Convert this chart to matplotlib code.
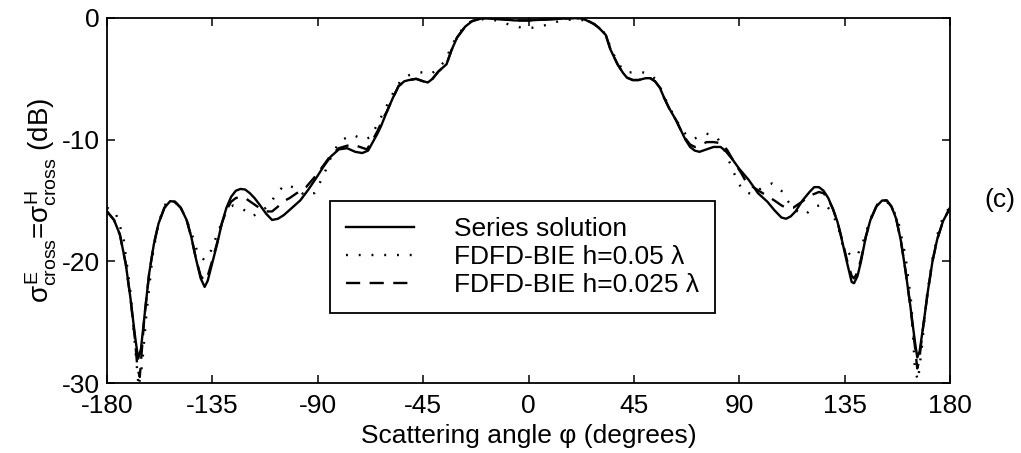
import numpy as np
import matplotlib
matplotlib.use('Agg')
import matplotlib.pyplot as plt

plt.rcParams['font.family'] = ['Liberation Sans', 'DejaVu Sans']
plt.rcParams['axes.unicode_minus'] = False
plt.rcParams['mathtext.fontset'] = 'custom'
plt.rcParams['mathtext.rm'] = 'Liberation Sans'
plt.rcParams['mathtext.it'] = 'Liberation Sans'
plt.rcParams['mathtext.bf'] = 'Liberation Sans:bold'

# series solution (solid)
phi_s = [-180, -177, -174.5, -172, -170, -168, -166.7, -165.5, -164, -162, -160, -158,
         -155.5, -153, -151, -148.5, -146, -144, -142, -140, -138.3, -137, -135, -133,
         -131, -129, -127, -125, -123, -121, -119, -117, -115, -112, -109.5, -107,
         -104.5, -101, -97.5, -94, -90.5, -87.5, -84.5, -81, -77.5, -74, -71, -68.5,
         -66.5, -64.5, -63, -60.5, -58, -55.5, -53, -51, -48, -45, -43, -41, -38.5,
         -35, -33, -30.5, -27, -24, -20, -12, -6, 0,
         5, 10, 15, 20, 23, 26, 28, 30, 33, 35, 38, 40.3, 42, 44.5, 47, 50, 52, 54,
         56, 58, 60, 63, 65, 67, 69, 71, 73, 76, 79, 82, 84, 87, 90, 94, 98, 102,
         105, 108, 110, 112, 114, 117, 120, 122, 124, 126, 128, 130, 132, 134, 136,
         138, 139, 140.5, 142, 144, 146, 148.5, 151, 153, 155, 157, 159, 161, 163,
         165, 166, 167, 168.5, 170.5, 172.5, 174.5, 177, 180]
db_s = [-15.9, -16.6, -17.8, -20.2, -23.0, -26.2, -28.0, -27.2, -24.5, -21.0, -18.6, -16.9,
        -15.6, -15.05, -15.1, -15.6, -16.6, -18.0, -19.8, -21.4, -22.1, -21.6, -20.1, -18.6,
        -16.9, -15.6, -14.7, -14.2, -14.05, -14.1, -14.4, -14.8, -15.3, -16.1, -16.6, -16.5,
        -16.2, -15.6, -15.0, -14.1, -13.1, -12.2, -11.4, -10.8, -10.7, -11.0, -11.1, -10.9,
        -10.2, -9.5, -8.9, -7.7, -6.6, -5.6, -5.2, -5.1, -5.0, -5.2, -5.3, -5.0, -4.4,
        -3.8, -2.7, -1.6, -0.7, -0.25, -0.02, -0.1, -0.2, -0.2,
        -0.15, -0.1, -0.05, 0.0, -0.05, -0.3, -0.5, -0.8, -1.4, -2.6, -3.8, -4.5, -4.9,
        -5.1, -5.1, -4.95, -4.95, -5.2, -5.7, -6.6, -7.4, -8.4, -9.2, -10.0, -10.6,
        -10.9, -11.0, -10.8, -10.6, -10.6, -10.9, -11.6, -12.4, -13.3, -14.4, -15.1,
        -15.8, -16.4, -16.5, -16.3, -15.9, -15.0, -14.3, -13.9, -13.9, -14.2, -14.8,
        -15.7, -16.8, -18.4, -20.1, -21.7, -21.8, -21.2, -20.0, -18.0, -16.6, -15.5,
        -15.0, -15.0, -15.5, -16.5, -18.3, -20.8, -23.6, -26.6, -27.9, -27.4, -25.4,
        -22.5, -20.0, -18.2, -16.7, -15.6]

# FDFD-BIE h=0.05 lambda (dotted)
phi_d = [-180, -176.5, -173, -170, -168, -166.5, -165, -163, -160.5, -158, -155, -152.5,
         -149, -146, -143, -141.5, -138.5, -135.5, -133, -130, -128, -126, -122, -118,
         -114, -110.5, -107.5, -104, -99, -95.5, -91.5, -89, -87, -85, -82, -79.5, -75,
         -70.5, -67.5, -65, -62, -59, -56, -53, -51, -46.5, -41.5, -38.5, -35, -33.5,
         -30.5, -27, -24, -20, -14, -8, -3, 3, 8, 14, 20, 24, 28, 31, 33.5, 35, 38, 40,
         42, 47, 52, 54, 56.5, 59, 62, 65, 68, 71, 76, 80.5, 84, 87, 89, 91.5, 95.5,
         100, 104, 108, 110.5, 114, 118, 122, 127, 130, 132, 134.3, 138, 140.5, 143,
         146, 149, 152, 155, 158, 161, 163.5, 165, 166.3, 168, 170, 172.5, 175, 177.5, 180]
db_d = [-15.6, -15.9, -18.0, -22.5, -27.0, -30.3, -28.5, -24.0, -19.5, -16.8, -15.3, -15.0,
        -15.4, -16.6, -18.2, -19.2, -19.9, -19.1, -17.8, -16.3, -15.6, -15.4, -15.7, -16.3,
        -15.9, -15.3, -14.4, -13.7, -14.0, -14.6, -14.4, -13.5, -12.7, -11.7, -10.6, -10.0, -9.6,
        -10.0, -9.8, -8.9, -7.8, -6.6, -5.5, -4.9, -4.7, -4.45, -4.6, -4.1, -3.4, -2.5,
        -1.5, -0.6, -0.2, -0.1, -0.2, -0.55, -0.8, -0.8, -0.55, -0.2, -0.1, -0.2, -0.5, -0.9,
        -1.5, -2.5, -3.6, -4.2, -4.5, -4.4, -4.6, -5.0, -5.8, -6.9, -8.0, -9.0, -9.8, -9.9,
        -9.5, -9.8, -11.0, -12.4, -13.3, -14.2, -14.5, -13.9, -13.6, -14.2, -15.0, -15.8,
        -16.2, -15.5, -15.3, -16.2, -17.0, -18.8, -19.6, -19.5, -18.3, -16.5, -15.3, -15.0,
        -15.4, -16.8, -19.6, -23.5, -28.9, -29.8, -27.0, -23.0, -19.8, -17.5, -16.1, -15.6]

# FDFD-BIE h=0.025 lambda (dashed)
phi_h = [-180, -177, -174.5, -172, -170, -168, -167, -166, -165, -164, -162, -160, -158,
         -155.5, -153, -151, -148.5, -146, -144, -142, -140, -138.3, -137, -135, -133,
         -131, -129, -127, -125, -123, -121, -118, -115, -112, -109.5, -107, -105, -102,
         -99, -95, -91, -87.5, -84.5, -81, -77.5, -75, -72, -69, -66.5, -64.5, -62,
         -60.5, -58, -55.5, -53, -51, -48, -45, -43, -41, -38.5, -35, -33, -30.5, -27,
         -24, -20, -12, -6, 0, 5, 10, 15, 20, 23, 26, 28, 30, 33, 35, 38, 40.3, 42, 44.5,
         47, 50, 52, 54, 56, 58, 60, 63, 65, 67, 69, 71, 73, 76, 79, 82.6, 85, 88, 91,
         93, 96.7, 100, 105, 108, 110, 113, 116.7, 119, 121.5, 124, 126, 128, 130, 132,
         134, 136, 138, 139, 140.5, 142, 144, 146, 148.5, 151, 153, 155, 157, 159, 161,
         163, 165, 166, 166.8, 168.5, 170.5, 172.5, 174.5, 177, 180]
db_h = [-15.9, -16.6, -17.8, -20.2, -23.0, -26.5, -28.8, -29.5, -27.0, -24.5, -21.0, -18.6,
        -16.9, -15.6, -15.05, -15.1, -15.6, -16.6, -18.0, -19.8, -21.2, -21.6, -21.2, -19.9,
        -18.5, -16.9, -15.8, -15.1, -14.8, -14.7, -14.8, -15.2, -15.6, -15.9, -15.9, -15.5,
        -15.1, -14.8, -14.4, -13.9, -13.0, -12.1, -11.3, -10.7, -10.5, -10.4, -10.6, -10.8,
        -10.0, -9.3, -8.2, -7.7, -6.6, -5.6, -5.2, -5.1, -5.0, -5.2, -5.3, -5.0, -4.4,
        -3.8, -2.7, -1.6, -0.7, -0.25, -0.02, -0.1, -0.2, -0.2, -0.15, -0.1, -0.05, 0.0,
        -0.05, -0.3, -0.5, -0.8, -1.4, -2.6, -3.8, -4.5, -4.9, -5.1, -5.1, -4.95, -4.95,
        -5.2, -5.7, -6.6, -7.4, -8.4, -9.2, -9.9, -10.4, -10.6, -10.5, -10.2, -10.2, -10.3,
        -10.9, -11.9, -12.8, -13.5, -14.0, -14.4, -15.0, -15.4, -15.6, -15.6, -15.1, -14.8,
        -14.5, -14.3, -14.4, -14.9, -15.7, -16.8, -18.3, -19.9, -21.2, -21.4, -20.9, -19.8,
        -18.0, -16.6, -15.5, -15.0, -15.0, -15.5, -16.5, -18.3, -20.8, -23.6, -27.0, -28.8,
        -28.2, -25.4, -22.5, -20.0, -18.2, -16.7, -15.6]

labels = ['Series solution', 'FDFD-BIE h=0.05 λ', 'FDFD-BIE h=0.025 λ']
xticks = [-180, -135, -90, -45, 0, 45, 90, 135, 180]
yticks = [-30, -20, -10, 0]

fig = plt.figure(figsize=(10.21, 4.53), dpi=100)
ax = fig.add_axes([0.1048, 0.1545, 0.8257, 0.8058])

ax.plot(phi_s, db_s, color='black', lw=1.7, ls='-', label=labels[0])
ax.plot(phi_d, db_d, color='black', lw=1.7, ls=(0, (0.8, 4.6)), label=labels[1])
ax.plot(phi_h, db_h, color='black', lw=1.7, ls=(0, (6, 4)), label=labels[2])

ax.set_xlim(-180, 180)
ax.set_ylim(-30, 0)
ax.set_xticks(xticks)
ax.set_yticks(yticks)
ax.tick_params(direction='in', top=True, right=True, length=6, width=1.1,
               labelsize=19)
ax.tick_params(axis='x', pad=8)
ax.tick_params(axis='y', pad=5)
for s in ax.spines.values():
    s.set_linewidth(1.3)

ax.set_xlabel('Scattering angle φ (degrees)', fontsize=19, labelpad=4)
ax.set_ylabel(r'$\sigma^{E}_{\mathrm{cross}}$=$\sigma^{H}_{\mathrm{cross}}$ (dB)',
              fontsize=20, labelpad=2)

leg = ax.legend(loc='upper left', bbox_to_anchor=(0.2645, 0.4986),
                bbox_transform=ax.transAxes, borderaxespad=0, fontsize=19,
                handlelength=2.6, handletextpad=1.5, labelspacing=0.15,
                borderpad=0.6, fancybox=False, framealpha=1, edgecolor='black')
leg.get_frame().set_linewidth(1.3)

fig.text(0.979, 0.558, '(c)', fontsize=19, ha='center', va='center')

fig.savefig('out.png', dpi=100)
